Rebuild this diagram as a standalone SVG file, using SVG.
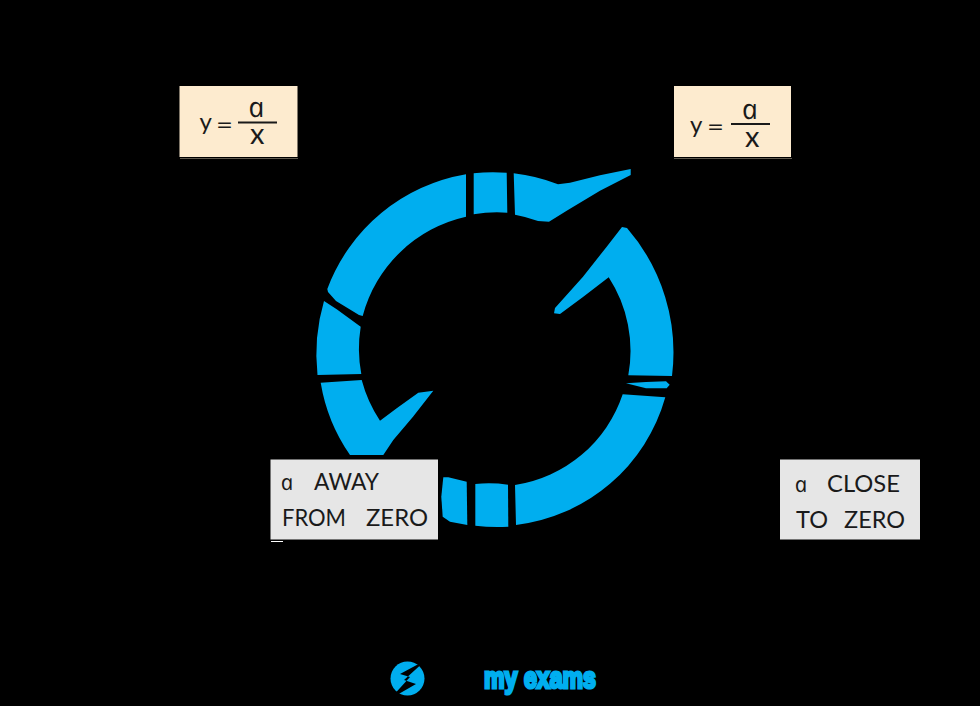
<svg xmlns="http://www.w3.org/2000/svg" width="980" height="706" viewBox="0 0 980 706">
  <style>
    .seg { fill: #00aeef; }
    .eq { fill: #fdebcf; }
    .tag { fill: #e6e6e6; }
    .t { font-family: "Lato", "Liberation Sans", sans-serif; fill: #1a1a1a; font-size: 23.500px; }
    .v { font-family: "Open Sans", "Liberation Sans", sans-serif; font-style: italic; fill: #1a1a1a; }
    .frac { stroke: #1a1a1a; stroke-width: 2.2; fill: none; }
    .edge { stroke: #5f5a50; stroke-width: 1; }
    .tick { stroke: #fff; stroke-width: 1; }
    .logo { font-family: "Liberation Sans", sans-serif; font-weight: 700; font-size: 30px; }
  </style>
  <rect width="980" height="706" fill="#000"/>

  <g id="cycle" class="seg">
    <!-- ring centred near (494.7, 350): outer radius about 177, inner radius about 135 -->
    <path d="M327.300 289A180 180 0 0 1 466 174.300L466 216.700A138 138 0 0 0 362.700 316L359 315L336 301L328 292Z"/>
    <path d="M473.700 173.300A177 177 0 0 1 506.700 172.800L507.300 212.700A137 137 0 0 0 473.700 214.300Z"/>
    <path d="M513.700 173.300A177 177 0 0 1 558 184.300L570 182.700L600 175.300L630.700 169L630.700 175L600 190.700L566.700 210.700L549 221.700L538 221A137 137 0 0 0 515 214.700Z"/>
    <path d="M324 301L336.700 309.300L360.700 326.700A136 136 0 0 0 361.300 374L317.500 375A190 190 0 0 1 324 301Z"/>
    <path d="M320.700 382.700L361.700 380A136 136 0 0 0 380 420.700L396.700 408.300L418.300 392.700L433.300 390.700L413 416.700L393.300 440L383.300 455L350 455A177 177 0 0 1 320.700 382.700Z"/>
    <path d="M622 227L627 228A190 190 0 0 1 672 376L628.300 375.300A135 135 0 0 0 608.700 277.300L583 297L560 314L554 313.300L555 308L583 276.700L606.700 246.700Z"/>
    <path d="M626 383.300L646 382L666 381.300L669.700 384.700L666.700 388.300L646 388.300Z"/>
    <path d="M622.700 394.300L665.300 397.300A177 177 0 0 1 516 525L515 485A135 135 0 0 0 622.700 394.300Z"/>
    <path d="M475.300 484A136 136 0 0 1 508 484.700L508.300 526.700A177 177 0 0 1 475.300 525.700Z"/>
    <path d="M443.300 477.300L448.300 477.300L466.700 481.700L467.300 525L450 521.700L442.700 516.700L441.300 496.700Z"/>
  </g>

  <g id="eq-left">
    <rect class="eq" x="179.500" y="86" width="118" height="71"/>
    <line class="edge" x1="180" y1="158.500" x2="298" y2="158.500"/>
    <text class="t" x="199.500" y="130" style="font-size:24px">y</text>
    <text class="t" x="216" y="133" textLength="17" lengthAdjust="spacingAndGlyphs">=</text>
    <line class="frac" x1="238" y1="122.500" x2="277" y2="122.500"/>
    <text class="v" transform="translate(250 116.500) skewX(12)" font-size="28">a</text>
    <text class="t" x="250" y="144" style="font-size:29px">x</text>
  </g>

  <g id="eq-right">
    <rect class="eq" x="674" y="86" width="117" height="71"/>
    <line class="edge" x1="674" y1="158.500" x2="792" y2="158.500"/>
    <text class="t" x="690" y="133" style="font-size:24px">y</text>
    <text class="t" x="707" y="135" textLength="17" lengthAdjust="spacingAndGlyphs">=</text>
    <line class="frac" x1="731" y1="124" x2="770" y2="124"/>
    <text class="v" transform="translate(743.500 118.500) skewX(12)" font-size="28">a</text>
    <text class="t" x="745" y="147" style="font-size:29px">x</text>
  </g>

  <g id="tag-away">
    <rect class="tag" x="270.500" y="459.500" width="167.500" height="80"/>
    <line class="tick" x1="271" y1="541.500" x2="283" y2="541.500"/>
    <text class="v" transform="translate(282 490) skewX(12)" font-size="22">a</text>
    <text class="t" x="314" y="490" textLength="65" lengthAdjust="spacingAndGlyphs">AWAY</text>
    <text class="t" x="282" y="526" textLength="64" lengthAdjust="spacingAndGlyphs">FROM</text>
    <text class="t" x="366" y="526" textLength="62" lengthAdjust="spacingAndGlyphs">ZERO</text>
  </g>

  <g id="tag-close">
    <rect class="tag" x="780" y="459.500" width="140" height="80"/>
    <text class="v" transform="translate(796 492) skewX(12)" font-size="22">a</text>
    <text class="t" x="827" y="492" textLength="73" lengthAdjust="spacingAndGlyphs">CLOSE</text>
    <text class="t" x="796" y="528" textLength="32" lengthAdjust="spacingAndGlyphs">TO</text>
    <text class="t" x="844" y="528" textLength="61" lengthAdjust="spacingAndGlyphs">ZERO</text>
  </g>

  <g id="brand">
    <circle cx="407.500" cy="678.500" r="17" fill="#00aeef"/>
    <path d="M426 660L400 674L410 677L390 699L416 684L404 680Z" fill="#000"/>
    <text class="logo" x="428" y="688" fill="#000" style="font-size:24px" textLength="50" lengthAdjust="spacingAndGlyphs">save</text>
    <text class="logo" x="484" y="688" fill="#00aeef" stroke="#00aeef" stroke-width="3" textLength="112" lengthAdjust="spacingAndGlyphs">my exams</text>
  </g>
</svg>
